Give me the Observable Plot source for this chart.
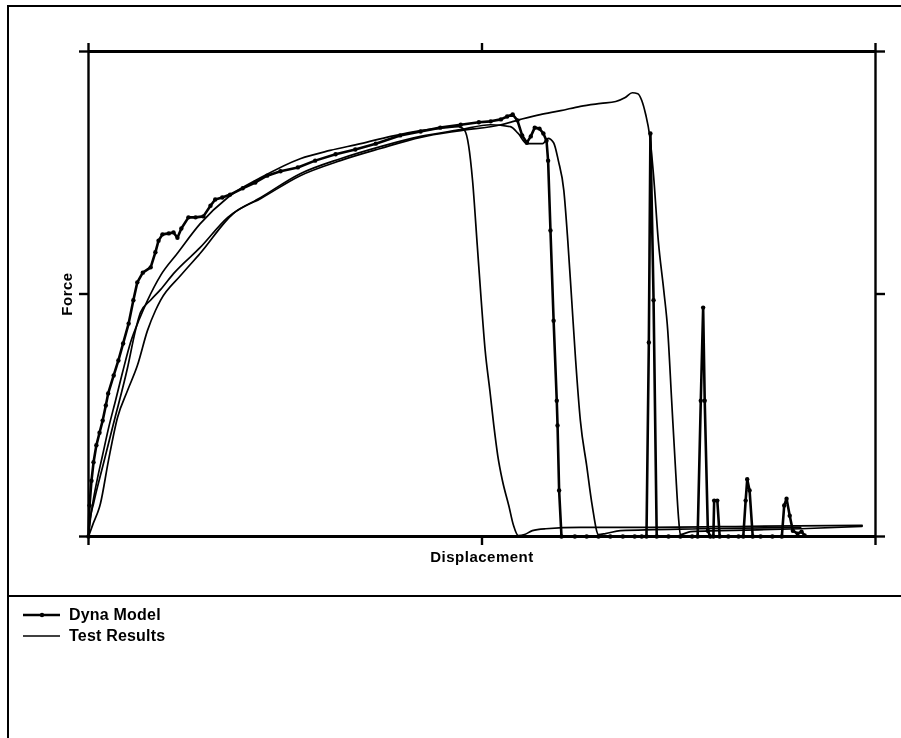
<!DOCTYPE html>
<html>
<head>
<meta charset="utf-8">
<script src="https://cdn.jsdelivr.net/npm/d3@7"></script>
<script src="https://cdn.jsdelivr.net/npm/@observablehq/plot@0.6"></script>
<style>
  html, body { margin: 0; padding: 0; background: #fff; }
  #wrap { position: relative; width: 901px; height: 738px; overflow: hidden; background: #fff; font-family: "Liberation Sans", Arial, sans-serif; }
  #outer { position: absolute; left: 7px; top: 5px; width: 894px; height: 733px; border-top: 2px solid #000; border-left: 2px solid #000; box-sizing: border-box; pointer-events: none; }
  #chart { position: absolute; left: 0; top: 0; }
  #chart svg { will-change: transform; }
  #chart text { letter-spacing: 0.5px; }
  #legend { position: absolute; left: 7px; top: 595px; width: 894px; border-top: 2px solid #000; height: 143px; }
  .row { position: absolute; left: 0; height: 20px; font-weight: bold; font-size: 16px; color: #000; letter-spacing: 0.2px; }
  .row svg { position: absolute; left: 16px; top: 5px; }
  .row span { position: absolute; left: 62px; white-space: nowrap; line-height: 20px; top: 0; }
</style>
</head>
<body>
<div id="wrap">
  <div id="chart"></div>
  <div id="outer"></div>
  <div id="legend"></div>
</div>
<script>
// Axis ticks (unlabelled)
const xTicks = [0, 50, 100];
const yTicks = [0, 50, 100];
const xLabel = "Displacement";
const yLabel = "Force";
const seriesNames = ["Dyna Model", "Test Results"];

// Dyna Model [displacement, force]
const dynaModel = [
  [0,0],[0.13,6.4],[0.38,11.5],[0.64,15.3],[1.0,18.8],[1.4,21.4],[1.8,23.9],[2.2,27.0],[2.5,29.5],[3.2,33.2],
  [3.8,36.3],[4.4,39.8],[5.1,43.9],[5.7,48.7],[6.2,52.4],[6.9,54.4],[7.9,55.5],[8.5,58.6],[8.9,61.0],[9.4,62.3],
  [10.2,62.5],[10.8,62.7],[11.3,61.6],[11.8,63.5],[12.7,65.8],[13.6,65.8],[14.6,66.0],[15.5,68.2],[16.1,69.5],[17.0,69.9],
  [18.0,70.5],[19.6,71.8],[21.2,73.0],[22.7,74.4],[24.4,75.3],[26.6,76.1],[28.8,77.5],[31.4,78.8],[33.9,79.8],[36.5,81.0],
  [39.6,82.7],[42.2,83.5],[44.7,84.3],[47.3,84.9],[49.6,85.4],[51.1,85.6],[52.4,86.0],[53.2,86.6],[53.9,87.0],[54.5,85.8],
  [55.1,82.7],[55.7,81.2],[56.2,82.5],[56.7,84.3],[57.3,84.1],[57.8,83.1],[58.2,81.6],[58.4,77.5],[58.7,63.1],[59.1,44.5],
  [59.5,28.0],[59.6,22.9],[59.8,9.5],[60.1,0],
  [61.8,0],[63.3,0],[64.8,0],[66.3,0],[67.9,0],[69.4,0],[70.3,0],
  [70.9,0],[71.2,40],[71.4,83.1],[71.8,48.7],[72.2,0],
  [73.7,0],[75.2,0],[76.7,0],
  [77.4,0],[77.8,28],[78.1,47.2],[78.3,28],[78.7,1.2],[79.0,0],
  [79.4,0],[79.5,7.4],[79.9,7.4],[80.2,0],
  [81.3,0],[82.6,0],
  [83.2,0],[83.5,7.4],[83.7,11.8],[84.0,9.5],[84.4,0],
  [85.4,0],[86.9,0],
  [88.1,0],[88.4,6.4],[88.7,7.8],[89.1,4.3],[89.5,1.2],[90.1,0.6],[90.6,1.0],[91.0,0.2]
];

// Test results, three runs [displacement, force]
const testRun1 = [
  [0,0],[0.25,3.7],[0.64,7.8],[1.14,12.0],[1.78,16.7],[2.54,22.3],[3.43,28.0],[4.32,33.8],[5.34,40.0],[6.48,44.9],
  [7.50,48.7],[9.15,53.8],[11.3,58.4],[14.2,64.5],[17.7,69.9],[21.9,74.0],[26.9,77.9],[30.7,79.6],[34.6,81.0],[38.4,82.5],
  [42.2,83.7],[45.4,84.3],[47.0,84.5],[47.8,83.7],[48.3,80.6],[48.8,73.4],[49.4,60.0],[49.9,48.7],[50.4,38.4],[51.0,30.1],
  [51.5,22.9],[52.0,16.7],[52.6,11.5],[53.4,6.4],[54.0,2.3],[54.6,0.2],[55.4,0.4],[56.4,1.2],[58.1,1.6],[62.5,1.9],
  [71.4,1.9],[84.1,2.1],[98.3,2.3]
];
const testRun2 = [
  [0,0],[0.13,2.7],[0.64,6.8],[1.91,15.1],[3.18,23.3],[4.96,34.8],[5.97,42.5],[6.61,46.2],[7.88,48.7],[9.15,50.9],
  [10.8,54.2],[14.2,59.6],[17.7,65.8],[21.9,69.9],[26.9,74.8],[32.0,77.9],[37.1,80.4],[42.2,82.5],[47.3,83.9],[51.1,84.9],
  [53.6,84.5],[54.6,83.1],[55.7,81.0],[57.7,81.0],[58.4,82.1],[59.1,81.2],[59.7,77.5],[60.4,71.3],[60.9,61.0],[61.4,48.7],
  [61.9,36.3],[62.5,23.9],[63.3,14.6],[64.0,6.4],[64.8,0.4],[65.7,0.6],[67.6,1.2],[77.8,1.6],[90.5,1.9]
];
const testRun3 = [
  [0,0],[0.51,2.3],[1.52,6.8],[2.54,15.7],[3.68,24.5],[4.96,30.1],[6.22,35.3],[7.50,42.5],[8.51,46.6],[9.15,48.7],
  [11.7,53.8],[14.2,58.4],[18.4,66.6],[21.9,69.7],[26.9,74.4],[32.0,77.5],[37.1,80.0],[42.2,82.3],[47.3,83.7],[52.4,84.9],
  [54.9,86.0],[57.4,87.0],[60.0,87.8],[62.5,88.7],[65.1,89.3],[67.0,89.7],[68.2,90.5],[69.1,91.5],[69.8,91.3],[70.3,89.9],
  [70.8,87.0],[71.3,82.7],[71.8,74.4],[72.4,61.0],[73.1,50.7],[73.6,42.5],[74.1,28.0],[74.6,13.6],[75.0,3.3],[75.2,0.4],
  [76.5,1.0],[80.3,1.2],[90.5,1.6],[98.3,2.1]
];

const testLine = (data) => Plot.line(data, {x: d => d[0], y: d => d[1], stroke: "#000", strokeWidth: 1.7, curve: "monotone-x"});
const blank = () => "";

const chart = Plot.plot({
  width: 901,
  height: 590,
  marginLeft: 88,
  marginRight: 26,
  marginTop: 51,
  marginBottom: 54,
  x: {domain: [xTicks[0], xTicks[xTicks.length - 1]]},
  y: {domain: [yTicks[0], yTicks[yTicks.length - 1]]},
  style: {background: "transparent", fontFamily: "'Liberation Sans', Arial, sans-serif", color: "#000"},
  marks: [
    Plot.ruleY([yTicks[0], yTicks[yTicks.length - 1]], {stroke: "#000", strokeWidth: 3}),
    Plot.ruleX([xTicks[0], xTicks[xTicks.length - 1]], {stroke: "#000", strokeWidth: 2.4}),
    Plot.axisX({anchor: "bottom", ticks: xTicks, tickSize: 9, tickFormat: blank, label: null, strokeWidth: 2.4}),
    Plot.axisX({anchor: "top", ticks: xTicks, tickSize: 9, tickFormat: blank, label: null, strokeWidth: 2.4}),
    Plot.axisY({anchor: "left", ticks: yTicks, tickSize: 9, tickFormat: blank, label: null, strokeWidth: 2.4}),
    Plot.axisY({anchor: "right", ticks: yTicks, tickSize: 9, tickFormat: blank, label: null, strokeWidth: 2.4}),
    testLine(testRun1),
    testLine(testRun2),
    testLine(testRun3),
    Plot.line(dynaModel, {x: d => d[0], y: d => d[1], stroke: "#000", strokeWidth: 2.6}),
    Plot.dot(dynaModel, {x: d => d[0], y: d => d[1], r: 2.2, fill: "#000", stroke: "none"}),
    Plot.text([xLabel], {frameAnchor: "bottom", textAnchor: "middle", lineAnchor: "middle", dy: 21, fontWeight: "bold", fontSize: 15, fill: "#000"}),
    Plot.text([yLabel], {frameAnchor: "left", textAnchor: "middle", lineAnchor: "middle", dx: -21, rotate: -90, fontWeight: "bold", fontSize: 15, fill: "#000"})
  ]
});
document.getElementById("chart").appendChild(chart);

// Legend below the chart
const legend = document.getElementById("legend");
seriesNames.forEach((name, i) => {
  const row = document.createElement("div");
  row.className = "row";
  row.style.top = (8 + i * 21) + "px";
  const isDyna = i === 0;
  row.innerHTML =
    `<svg width="38" height="10" viewBox="0 0 38 10">` +
    `<line x1="0" y1="5" x2="37" y2="5" stroke="#000" stroke-width="${isDyna ? 2.6 : 1.5}"/>` +
    (isDyna ? `<circle cx="19" cy="5" r="2.2" fill="#000"/>` : "") +
    `</svg><span>${name}</span>`;
  legend.appendChild(row);
});
</script>
</body>
</html>
